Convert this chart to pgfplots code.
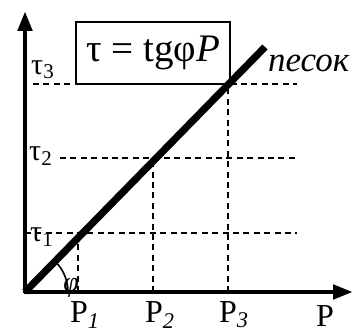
\documentclass[border=0pt]{standalone}
\usepackage{fontspec}
\setmainfont{Liberation Serif}
\usepackage{pgfplots}
\pgfplotsset{compat=1.18}
\usetikzlibrary{arrows.meta}
\begin{document}
\begin{tikzpicture}
\begin{axis}[
  x=0.5pt, y=0.5pt, xmin=-25, xmax=331, ymin=-40, ymax=292,
  hide axis, clip=false, scale only axis]
% axes
\addplot[black, line width=2.4pt, -{Triangle[length=10pt,width=7pt]}] coordinates {(0,-1) (0,281)};
\addplot[black, line width=2.4pt, -{Triangle[length=10pt,width=7pt]}] coordinates {(-1,0) (328,0)};
% dashed guides
\addplot[black, line width=1pt, dash pattern=on 3pt off 2.2pt] coordinates {(8,208) (272,208)};
\addplot[black, line width=1pt, dash pattern=on 3pt off 2.2pt] coordinates {(35,134) (272,134)};
\addplot[black, line width=1pt, dash pattern=on 3pt off 2.2pt] coordinates {(0,59) (272,59)};
\addplot[black, line width=1pt, dash pattern=on 3pt off 2.2pt] coordinates {(53,0) (53,59)};
\addplot[black, line width=1pt, dash pattern=on 3pt off 2.2pt] coordinates {(128,0) (128,134)};
\addplot[black, line width=1pt, dash pattern=on 3pt off 2.2pt] coordinates {(203,0) (203,208)};
% box
\fill[white] (axis cs:51,208) rectangle (axis cs:205,270);
\draw[black, line width=1.1pt] (axis cs:51,208) rectangle (axis cs:205,270);
\node[font=\fontsize{19.5}{19.5}\selectfont] at (axis cs:128,239) {τ = tgφ\textit{P}};
% main line
\addplot[black, line width=3.6pt] coordinates {(0,0) (240,245)};
% angle
\draw[black, line width=0.8pt] (axis cs:43,0) arc[start angle=0, end angle=46, radius=21.5pt];
\node[font=\fontsize{14}{14}\selectfont\itshape] at (axis cs:46,4) {φ};
\node[font=\fontsize{17.5}{17.5}\selectfont\itshape, anchor=west] at (axis cs:236,229) {песок};
% tau labels
\node[font=\fontsize{15}{15}\selectfont] at (axis cs:18,222) {τ\textsubscript{3}};
\node[font=\fontsize{15}{15}\selectfont] at (axis cs:16,136) {τ\textsubscript{2}};
\node[font=\fontsize{15}{15}\selectfont] at (axis cs:17,55) {τ\textsubscript{1}};
% P labels
\node[font=\fontsize{16}{16}\selectfont] at (axis cs:60,-23) {P\textsubscript{\textit{1}}};
\node[font=\fontsize{16}{16}\selectfont] at (axis cs:135,-23) {P\textsubscript{\textit{2}}};
\node[font=\fontsize{16}{16}\selectfont] at (axis cs:209,-23) {P\textsubscript{\textit{3}}};
\node[font=\fontsize{16}{16}\selectfont] at (axis cs:300,-24) {P};
\end{axis}
\pgfresetboundingbox
\path (current axis.south west) rectangle (current axis.north east);
\end{tikzpicture}
\end{document}
